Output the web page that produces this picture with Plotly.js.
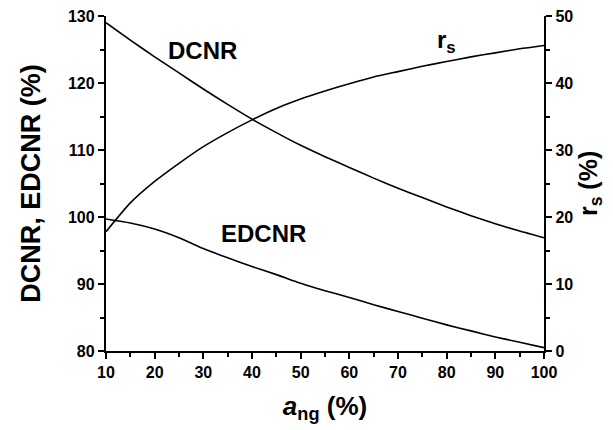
<!DOCTYPE html>
<html>
<head>
<meta charset="utf-8">
<script src="https://cdn.plot.ly/plotly-3.0.1.min.js"></script>
<style>html,body{margin:0;padding:0;background:#fff;}#chart{width:613px;height:430px;}</style>
</head>
<body>
<div id="chart"></div>
<script>
// a_ng (%) sample positions
var ang = [10, 15, 20, 25, 30, 35, 40, 45, 50, 55, 60, 65, 70, 75, 80, 85, 90, 95, 100];
// DCNR (%) - left axis
var dcnr = [129.0, 126.4, 123.9, 121.5, 119.1, 116.8, 114.6, 112.6, 110.7, 109.0, 107.4, 105.8, 104.3, 102.9, 101.5, 100.2, 99.0, 97.9, 96.9];
// EDCNR (%) - left axis
var edcnr = [99.7, 99.1, 98.2, 96.9, 95.3, 93.9, 92.6, 91.4, 90.1, 89.0, 88.0, 86.9, 85.9, 84.9, 83.9, 83.0, 82.1, 81.3, 80.5];
// r_s (%) - right axis
var rs = [17.8, 22.1, 25.3, 28.0, 30.5, 32.6, 34.5, 36.2, 37.6, 38.8, 39.9, 40.9, 41.7, 42.5, 43.2, 43.9, 44.5, 45.1, 45.6];

var leftTicks = [80, 90, 100, 110, 120, 130];
var rightTicks = [0, 10, 20, 30, 40, 50];
var xTicks = [10, 20, 30, 40, 50, 60, 70, 80, 90, 100];

var FONT = 'Liberation Sans, Arial, sans-serif';
var lineStyle = {color: '#000', width: 1.6, shape: 'spline', smoothing: 0.6};

var traces = [
  {x: ang, y: dcnr, type: 'scatter', mode: 'lines', name: 'DCNR', line: lineStyle, xaxis: 'x', yaxis: 'y'},
  {x: ang, y: edcnr, type: 'scatter', mode: 'lines', name: 'EDCNR', line: lineStyle, xaxis: 'x', yaxis: 'y'},
  {x: ang, y: rs, type: 'scatter', mode: 'lines', name: 'rs', line: lineStyle, xaxis: 'x', yaxis: 'y2'}
];

var axisCommon = {
  showgrid: false, zeroline: false, showline: true, linecolor: '#000', linewidth: 2.2,
  ticks: 'outside', ticklen: 6, tickwidth: 2, tickcolor: '#000',
  tickfont: {family: FONT, size: 16, color: '#000', weight: 'bold'},
  minor: {ticks: 'outside', ticklen: 3.5, tickwidth: 2, tickcolor: '#000', dtick: 5, showgrid: false}
};

var layout = {
  width: 613, height: 430,
  margin: {l: 106, r: 69, t: 16, b: 79},
  paper_bgcolor: '#fff', plot_bgcolor: '#fff',
  showlegend: false,
  font: {family: FONT, color: '#000'},
  xaxis: Object.assign({}, axisCommon, {
    range: [10, 100], tickvals: xTicks, ticktext: xTicks.map(String),
    minor: Object.assign({}, axisCommon.minor, {tickvals: [15, 25, 35, 45, 55, 65, 75, 85, 95]}),
    title: {text: '<i>a</i><sub>ng</sub> (%)', font: {family: FONT, size: 26, color: '#000', weight: 'bold'}, standoff: 16}
  }),
  yaxis: Object.assign({}, axisCommon, {
    range: [80, 130], tickvals: leftTicks, ticktext: leftTicks.map(String),
    minor: Object.assign({}, axisCommon.minor, {tickvals: [85, 95, 105, 115, 125]}),
    title: {text: 'DCNR, EDCNR (%)', font: {family: FONT, size: 27, color: '#000', weight: 'bold'}, standoff: 20}
  }),
  yaxis2: Object.assign({}, axisCommon, {
    range: [0, 50], overlaying: 'y', side: 'right', tickvals: rightTicks, ticktext: rightTicks.map(String),
    minor: Object.assign({}, axisCommon.minor, {tickvals: [5, 15, 25, 35, 45]})
  }),
  annotations: [
    {x: 29.9, y: 124.8, xref: 'x', yref: 'y', text: 'DCNR', showarrow: false, xanchor: 'center', yanchor: 'middle',
     font: {family: FONT, size: 24, color: '#000', weight: 'bold'}},
    {x: 42.3, y: 97.6, xref: 'x', yref: 'y', text: 'EDCNR', showarrow: false, xanchor: 'center', yanchor: 'middle',
     font: {family: FONT, size: 24, color: '#000', weight: 'bold'}},
    {x: 79.9, y: 126.2, xref: 'x', yref: 'y', text: 'r<sub>s</sub>', showarrow: false, xanchor: 'center', yanchor: 'middle',
     font: {family: FONT, size: 24, color: '#000', weight: 'bold'}},
    {x: 1.104, y: 0.5, xref: 'paper', yref: 'paper', text: 'r<sub>s</sub> (%)', textangle: -90, showarrow: false,
     xanchor: 'center', yanchor: 'middle', font: {family: FONT, size: 25, color: '#000', weight: 'bold'}}
  ]
};

Plotly.newPlot('chart', traces, layout, {displayModeBar: false, staticPlot: true});
</script>
</body>
</html>
